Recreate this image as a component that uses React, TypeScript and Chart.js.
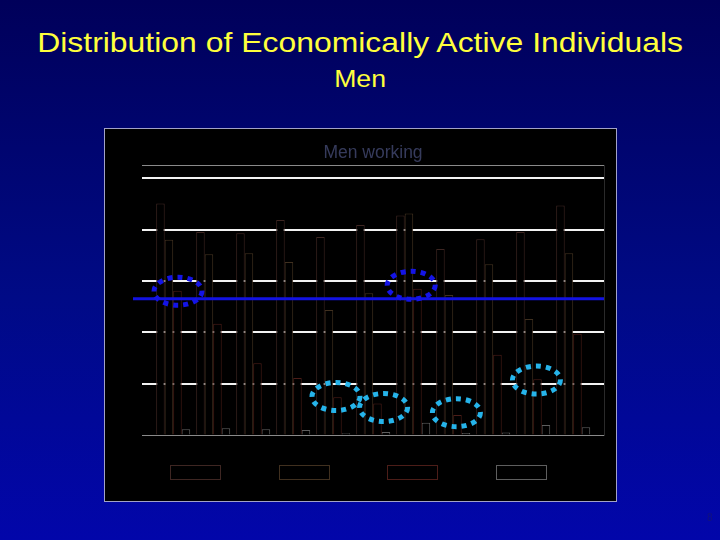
import React, { useEffect, useRef } from 'react';
import { Chart, registerables } from 'chart.js';

Chart.register(...registerables);

// ---- data ----
const categories = ['1', '2', '3', '4', '5', '6', '7', '8', '9', '10', '11'];
const seriesNames = ['Series A', 'Series B', 'Series C', 'Series D'];
const series1 = [90.2, 79.1, 78.6, 83.7, 77.1, 81.8, 85.5, 72.4, 76.2, 79.1, 89.4];
const series2 = [76.0, 70.4, 70.8, 67.4, 48.7, 55.2, 86.3, 54.5, 66.5, 45.2, 70.8];
const series3 = [56.2, 43.3, 27.9, 22.2, 14.7, 12.3, 57.0, 7.8, 31.3, 21.7, 39.4];
const series4 = [2.2, 2.6, 2.2, 1.9, 0.7, 1.2, 4.8, 0.8, 1.0, 3.9, 3.0];
const yTicks = [0, 20, 40, 60, 80, 100, 105];
const referenceLevel = 53.1;
// highlighted points (x = category position, y = value)
const darkMarkX = [0.12, 5.95];
const darkMarkY = [56.0, 58.3];
const lightMarkX = [4.07, 5.26, 7.08, 9.08];
const lightMarkY = [15.0, 10.7, 8.7, 21.4];

const seriesColors = ['#3e2622', '#40301f', '#4c1d18', '#5e5e5e'];

const overlayPlugin = {
  id: 'overlay',
  afterDatasetsDraw(chart: any) {
    const { ctx, chartArea, scales } = chart;
    const x = scales.x;
    const y = scales.y;
    ctx.save();
    // baseline
    ctx.strokeStyle = '#8a8a8a';
    ctx.lineWidth = 1;
    const by = Math.round(y.getPixelForValue(0)) + 0.5;
    ctx.beginPath();
    ctx.moveTo(chartArea.left, by);
    ctx.lineTo(chartArea.right, by);
    ctx.stroke();
    // reference line
    const ry = y.getPixelForValue(referenceLevel);
    ctx.strokeStyle = '#1212e2';
    ctx.lineWidth = 3;
    ctx.beginPath();
    ctx.moveTo(chartArea.left - 9, ry);
    ctx.lineTo(chartArea.right, ry);
    ctx.stroke();
    // dotted ellipses
    const ell = (cx: number, cy: number, color: string) => {
      ctx.strokeStyle = color;
      ctx.lineWidth = 5;
      ctx.setLineDash([5, 5]);
      ctx.beginPath();
      ctx.ellipse(x.getPixelForValue(cx), y.getPixelForValue(cy), 24, 14, 0, 0, Math.PI * 2);
      ctx.stroke();
    };
    darkMarkX.forEach((v, i) => ell(v, darkMarkY[i], '#1414e6'));
    lightMarkX.forEach((v, i) => ell(v, lightMarkY[i], '#26b4ea'));
    // legend boxes
    ctx.setLineDash([]);
    ctx.lineWidth = 1;
    chart.data.datasets.forEach((ds: any, i: number) => {
      ctx.strokeStyle = ds.borderColor;
      ctx.strokeRect(Math.round(chartArea.left + 28 + i * 108.7) + 0.5, Math.round(chartArea.bottom) + 30.5, 50, 14);
    });
    ctx.restore();
  },
};

export default function App() {
  const ref = useRef<HTMLCanvasElement | null>(null);

  useEffect(() => {
    if (!ref.current) return;
    const all = [series1, series2, series3, series4];
    const chart = new Chart(ref.current, {
      type: 'bar',
      data: {
        datasets: all.map((s, i) => ({
          label: seriesNames[i],
          data: s.map((v, j) => ({ x: j, y: v })),
          backgroundColor: '#000000',
          borderColor: seriesColors[i],
          borderWidth: 1,
          categoryPercentage: 0.85,
          barPercentage: 1.0,
        })),
      },
      options: {
        responsive: false,
        animation: false,
        devicePixelRatio: 1,
        layout: { padding: { left: 142, right: 116, top: 142.4, bottom: 105 } },
        plugins: {
          legend: { display: false },
          tooltip: { enabled: false },
          title: {
            display: true,
            text: 'Men working',
            color: '#363b5c',
            font: { family: '"Liberation Sans", Arial, sans-serif', size: 17.5, weight: 'normal' },
            padding: { top: 0, bottom: 2 },
          },
        },
        scales: {
          x: {
            type: 'linear',
            min: -0.78,
            max: 10.77,
            offset: false,
            display: false,
            afterBuildTicks: (scale: any) => {
              scale.ticks = categories.map((_, j) => ({ value: j }));
            },
            grid: { display: false, offset: false },
          },
          y: {
            min: 0,
            max: 105,
            afterBuildTicks: (scale: any) => {
              scale.ticks = yTicks.map((v) => ({ value: v }));
            },
            ticks: { display: false },
            border: { display: false },
            grid: {
              drawTicks: false,
              color: (c: any) => (c.tick && (c.tick.value === 0 || c.tick.value === 105) ? '#8a8a8a' : '#f2f2f2'),
              lineWidth: (c: any) => (c.tick && (c.tick.value === 0 || c.tick.value === 105) ? 1 : 2),
            },
          },
          y2: {
            position: 'right',
            min: 0,
            max: 105,
            ticks: { display: false },
            grid: { display: false, drawTicks: false },
            border: { display: true, color: '#2a2a2a', width: 1 },
          },
        },
      },
      plugins: [overlayPlugin],
    } as any);
    return () => chart.destroy();
  }, []);

  const titleFont = '"Liberation Sans", Arial, sans-serif';
  return (
    <div
      style={{
        position: 'fixed',
        left: 0,
        top: 0,
        width: 720,
        height: 540,
        overflow: 'hidden',
        background: 'linear-gradient(to bottom, #00005a 0%, #000a86 55%, #0206aa 100%)',
      }}
    >
      <div
        style={{
          position: 'absolute',
          left: 0,
          top: 28.6,
          width: 720,
          textAlign: 'center',
          color: '#ffff3c',
          fontFamily: titleFont,
          fontSize: 28,
          lineHeight: '28px',
          whiteSpace: 'nowrap',
          transform: 'scaleX(1.14)',
          transformOrigin: '359.5px 0',
        }}
      >
        Distribution of Economically Active Individuals
      </div>
      <div
        style={{
          position: 'absolute',
          left: 0,
          top: 67,
          width: 720,
          textAlign: 'center',
          color: '#ffff3c',
          fontFamily: titleFont,
          fontSize: 24,
          lineHeight: '24px',
          whiteSpace: 'nowrap',
          transform: 'scaleX(1.11)',
          transformOrigin: '359.5px 0',
        }}
      >
        Men
      </div>
      <div
        style={{
          position: 'absolute',
          left: 104,
          top: 128,
          width: 513,
          height: 374,
          boxSizing: 'border-box',
          border: '1px solid #a2a2c8',
          background: '#000000',
        }}
      />
      <canvas
        ref={ref}
        width={720}
        height={540}
        style={{ position: 'absolute', left: 0, top: 0, width: 720, height: 540 }}
      />
      <div
        style={{
          position: 'absolute',
          left: 707,
          top: 512,
          color: '#12127e',
          fontFamily: titleFont,
          fontSize: 10,
        }}
      >
        8
      </div>
    </div>
  );
}
